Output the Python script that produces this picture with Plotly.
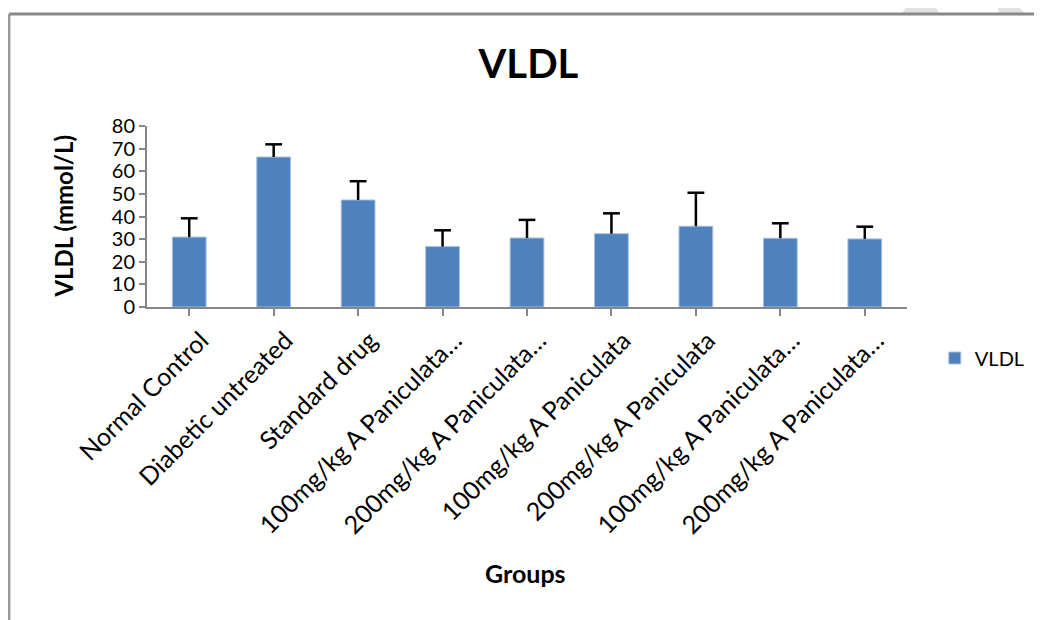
import plotly.graph_objects as go

groups = [
    "Normal Control",
    "Diabetic untreated",
    "Standard drug",
    "100mg/kg A Paniculata…",
    "200mg/kg A Paniculata…",
    "100mg/kg A Paniculata",
    "200mg/kg A Paniculata",
    "100mg/kg A Paniculata…",
    "200mg/kg A Paniculata…",
]
vldl = [30.9, 66.3, 47.3, 26.7, 30.5, 32.4, 35.7, 30.4, 30.1]
vldl_err = [8.3, 5.6, 8.3, 7.2, 8.0, 9.0, 14.8, 6.6, 5.4]

FONT = "Lato"
OFF = 8  # page body margin of the html output
W, H = 1042 - OFF, 620 - OFF
L, R, T, B = 147, 912, 126, 307  # plot area in reference pixels


def px(x, y):
    # reference pixel position -> paper coordinates
    return (x - L) / (R - L), (B - y) / (B - T)


fig = go.Figure()

# unique x positions so repeated labels don't merge
xs = list(range(len(groups)))

fig.add_trace(go.Bar(
    x=xs,
    y=vldl,
    name="VLDL",
    marker=dict(color="#4f81bd", line=dict(color="#a9c1e0", width=1)),
    width=0.4,
    error_y=dict(
        type="data",
        array=vldl_err,
        arrayminus=[0] * len(vldl_err),
        symmetric=False,
        color="black",
        thickness=2.5,
        width=0,
    ),
))

# caps only on the top end of the error bars
fig.add_trace(go.Scatter(
    x=xs,
    y=[v + e for v, e in zip(vldl, vldl_err)],
    mode="markers",
    marker=dict(symbol="line-ew-open", size=12, color="black",
                line=dict(color="black", width=2.5)),
    showlegend=False,
    hoverinfo="skip",
))

shapes = []
# outer frame (top and left edges only visible)
x0, y0 = px(8, 14)
x1, _ = px(1050, 14)
_, y1 = px(8, 630)
shapes.append(dict(type="line", xref="paper", yref="paper", x0=x0, y0=y0, x1=x1, y1=y0,
                   line=dict(color="#888888", width=3)))
shapes.append(dict(type="line", xref="paper", yref="paper", x0=x0, y0=y0, x1=x0, y1=y1,
                   line=dict(color="#999999", width=3)))

# faint watermark strokes at top right
for poly in ([(918, -2), (936, -2), (944, 13), (907, 13)],
             [(1000, -2), (1018, -2), (1030, 13), (1005, 13)]):
    pts = [px(a, b) for a, b in poly]
    path = "M " + " L ".join(f"{a},{b}" for a, b in pts) + " Z"
    shapes.append(dict(type="path", xref="paper", yref="paper", path=path,
                       fillcolor="#e2e2e2", line=dict(width=0), layer="below"))

gx, gy = px(528, 573)
yx, yy = px(62, 216)

fig.update_layout(
    width=W,
    height=H,
    margin=dict(l=L - OFF, r=W - (R - OFF), t=T - OFF, b=H - (B - OFF), pad=0),
    paper_bgcolor="white",
    plot_bgcolor="white",
    font=dict(family=FONT, color="black"),
    title=dict(
        text="<b>VLDL</b>",
        x=px(531, 0)[0], xanchor="center", xref="paper",
        y=1 - (64 - OFF) / H, yanchor="middle", yref="container",
        font=dict(size=40, family=FONT, color="black"),
    ),
    showlegend=True,
    legend=dict(
        x=px(940, 0)[0], y=px(0, 358)[1],
        xanchor="left", yanchor="middle",
        font=dict(size=20, family=FONT),
        bgcolor="rgba(0,0,0,0)",
        itemwidth=30,
    ),
    xaxis=dict(
        tickmode="array",
        tickvals=xs,
        ticktext=groups,
        range=[-0.5, len(groups) - 0.5],
        tickangle=-45,
        tickfont=dict(size=25, family=FONT),
        showline=True,
        linecolor="#868686",
        linewidth=2,
        ticks="outside",
        tickson="boundaries",
        ticklen=7,
        tickcolor="#868686",
        tickwidth=2,
        showgrid=False,
        zeroline=False,
        ticklabelstandoff=0,
        ticklabelshift=12,
    ),
    yaxis=dict(
        range=[0, 80],
        dtick=10,
        tickfont=dict(size=20, family=FONT),
        showline=True,
        linecolor="#868686",
        linewidth=2,
        ticks="outside",
        ticklen=6,
        tickcolor="#868686",
        tickwidth=2,
        showgrid=False,
        zeroline=False,
    ),
    shapes=shapes,
    annotations=[
        dict(text="<b>Groups</b>", x=gx, y=gy, xref="paper", yref="paper",
             showarrow=False, font=dict(size=25, family=FONT),
             xanchor="center", yanchor="middle"),
        dict(text="<b>VLDL (mmol/L)</b>", x=yx, y=yy, xref="paper", yref="paper",
             showarrow=False, textangle=-90, font=dict(size=24, family=FONT),
             xanchor="center", yanchor="middle"),
    ],
)

fig.write_html("out.html")
